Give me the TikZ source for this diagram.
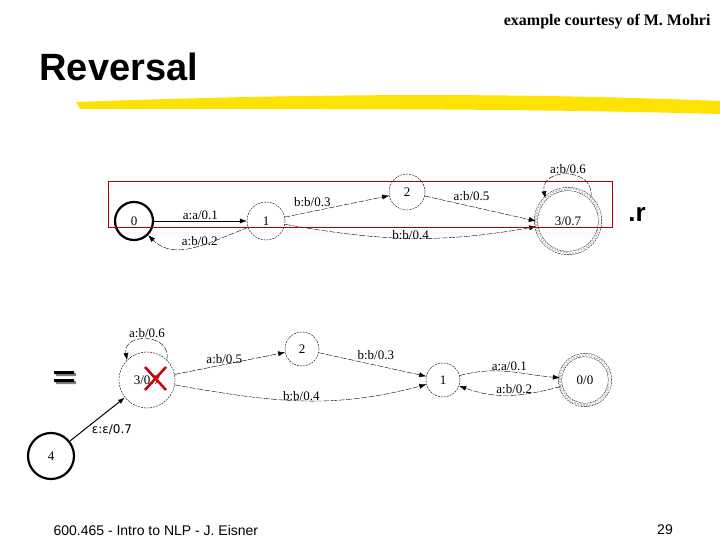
\documentclass[tikz,border=0pt]{standalone}
\usepackage{fontspec}
\setmainfont{Liberation Serif}
\newfontfamily\ssf{Liberation Sans}
\newfontfamily\dvs{DejaVu Sans}
\usetikzlibrary{arrows.meta}
\begin{document}
\begin{tikzpicture}[x=1pt,y=-1pt,
  st/.style={circle,draw,dashed,dash pattern=on 2pt off 1pt,thin,minimum size=#1,inner sep=0pt,font=\fontsize{13}{13}\selectfont},
  ini/.style={circle,draw,line width=2.2pt,minimum size=#1,inner sep=0pt,font=\fontsize{13}{13}\selectfont},
  fin/.style={st=#1,double,double distance=3pt},
  ed/.style={-{Latex[length=7pt,width=5pt]},dash pattern=on 6pt off 1.5pt,thin},
  lb/.style={font=\fontsize{13}{13}\selectfont,inner sep=1pt}]
\useasboundingbox (0,0) rectangle (720,540);
\node[anchor=east,font=\bfseries\fontsize{16}{16}\selectfont] (hdr) at (714,22) {example courtesy of M. Mohri};
\node[anchor=west,font=\ssf\bfseries\fontsize{38}{38}\selectfont] (tt) at (36,67) {Reversal};
\fill[yellow!85!orange] (76,102) .. controls (300,94) and (500,92) .. (720,101) -- (720,114) .. controls (500,108) and (300,109) .. (80,109) -- cycle;
\node[anchor=west,font=\ssf\fontsize{14}{14}\selectfont] (f1) at (50,530) {600.465 - Intro to NLP - J. Eisner};
\node[font=\ssf\fontsize{14}{14}\selectfont] (f2) at (665,530) {29};
% top
\node[ini=38pt] (a0) at (134,221) {0};
\node[st=38pt] (a1) at (266,221) {1};
\node[st=36pt] (a2) at (407,192) {2};
\node[fin=64pt] (a3) at (568,221) {3/0.7};
\draw[ed,solid] (a0) -- node[lb,above]{a:a/0.1} (a1);
\draw[ed] (a1) to[out=200,in=-45] node[lb,pos=0.45,above=-1pt]{a:b/0.2} (a0);
\draw[ed] (a1) -- node[lb,above left,pos=0.45]{b:b/0.3} (a2);
\draw[ed] (a2) -- node[lb,above right,pos=0.25]{a:b/0.5} (a3.west);
\draw[ed] (a1) to[out=-10,in=190] node[lb,pos=0.5,above=-3pt]{b:b/0.4} (a3);
\draw[ed] (a3.north east) to[out=80,in=100,looseness=1.8] node[lb,above]{a:b/0.6} (a3.north west);
\draw[red!70!black,thick] (108,181) rectangle (612,227);
\node[font=\ssf\bfseries\fontsize{26}{26}\selectfont] (rr) at (637,214) {.r};
% bottom
\fill[gray] (56,373) rectangle (76,376) (56,381) rectangle (76,384);
\fill[black] (54,371) rectangle (74,374) (54,379) rectangle (74,382);
\node[st=56pt] (b3) at (147,380) {3/0.7};
\node[st=34pt] (b2) at (302,349) {2};
\node[st=34pt] (b1) at (443,380) {1};
\node[fin=50pt] (b0) at (585,380) {0/0};
\node[ini=46pt] (b4) at (51,456) {4};
\draw[ed] (b3) -- node[lb,above,pos=0.45]{a:b/0.5} (b2);
\draw[ed] (b2) -- node[lb,above right,pos=0.35]{b:b/0.3} (b1);
\draw[ed] (b3) to[out=-10,in=195] node[lb,pos=0.5,above=-1pt]{b:b/0.4} (b1);
\draw[ed] (b1) to[out=15,in=175] node[lb,above]{a:a/0.1} (b0);
\draw[ed] (b0) to[out=195,in=-20] node[lb,above,pos=0.45]{a:b/0.2} (b1);
\draw[ed] (b3.north east) to[out=80,in=100,looseness=1.8] node[lb,above]{a:b/0.6} (b3.north west);
\draw[-{Latex[length=7pt,width=5pt]},line width=1pt] (b4) -- node[lb,right,pos=0.3,font=\dvs\fontsize{12}{12}\selectfont,xshift=4pt,yshift=-2pt]{ε:ε/0.7} (b3);
\draw[red!80!black,line width=2.5pt] (145,367) -- (166,390) (166,367) -- (145,390);
\end{tikzpicture}
\end{document}
